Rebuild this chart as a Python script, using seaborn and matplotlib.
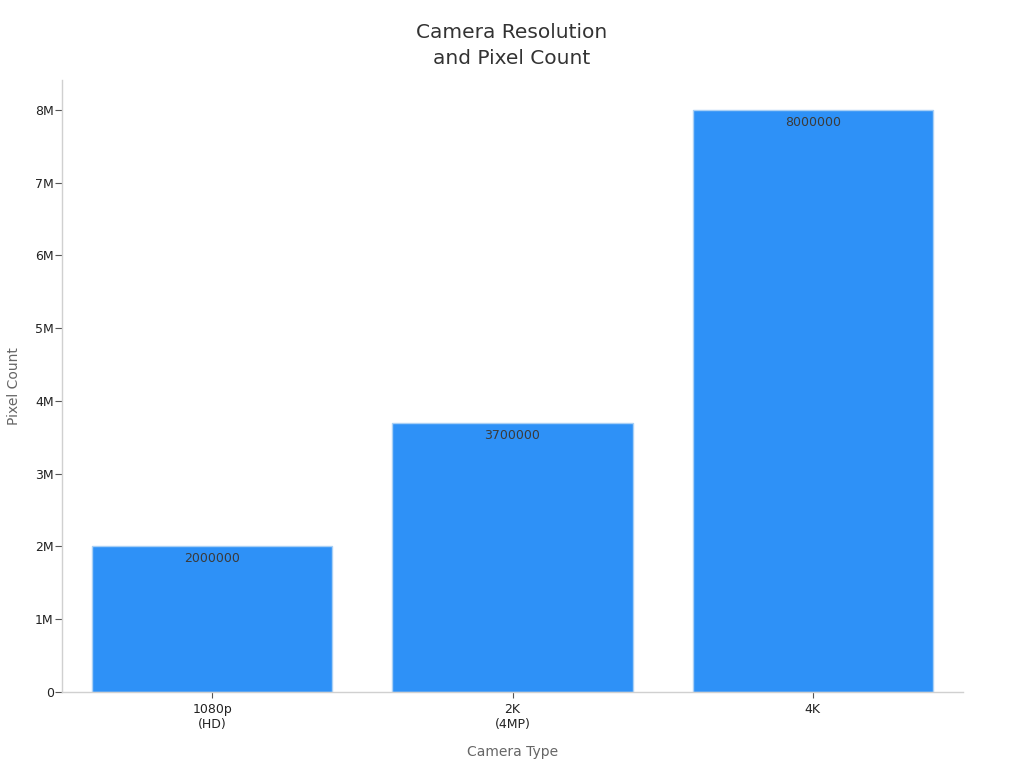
import matplotlib.pyplot as plt
import seaborn as sns
import pandas as pd

kamere = ["1080p\n(HD)", "2K\n(4MP)", "4K"]
piksli = [2000000, 3700000, 8000000]
yticks = [0, 1e6, 2e6, 3e6, 4e6, 5e6, 6e6, 7e6, 8e6]
ytick_labels = ["0", "1M", "2M", "3M", "4M", "5M", "6M", "7M", "8M"]

df = pd.DataFrame({"camera": kamere, "pixels": piksli})

sns.set_style("white")
plt.rcParams["font.family"] = ["DejaVu Sans"]

fig = plt.figure(figsize=(10.24, 7.68), dpi=100)
ax = fig.add_axes([62 / 1024, 1 - 692 / 768, (963 - 62) / 1024, (692 - 80) / 768])

sns.barplot(data=df, x="camera", y="pixels", color="#2e91f7", saturation=1,
            width=0.8, edgecolor="#a9d0f5", linewidth=1, ax=ax)

for i, v in enumerate(piksli):
    ax.text(i, v - 80000, str(v), ha="center", va="top", fontsize=9, color="#3a3a3a")

ax.set_xlim(-0.5, 2.5)
ax.set_ylim(0, 8.41e6)
ax.set_yticks(yticks)
ax.set_yticklabels(ytick_labels)
ax.tick_params(axis="y", left=True, length=5, width=0.8, color="#555555",
               labelsize=9, labelcolor="#222222", pad=1)
ax.tick_params(axis="x", bottom=True, length=4, width=0.8, color="#555555",
               labelsize=9, labelcolor="#222222", pad=4)

for s in ["top", "right"]:
    ax.spines[s].set_visible(False)
for s in ["left", "bottom"]:
    ax.spines[s].set_color("#d0d0d0")
    ax.spines[s].set_linewidth(1)

ax.set_xlabel("Camera Type", fontsize=10, color="#666666", labelpad=10)
ax.set_ylabel("Pixel Count", fontsize=10, color="#666666", labelpad=10)
fig.suptitle("Camera Resolution\nand Pixel Count", fontsize=14.5, color="#333333",
             y=0.97, linespacing=1.45)

fig.savefig("out.png", dpi=100)
